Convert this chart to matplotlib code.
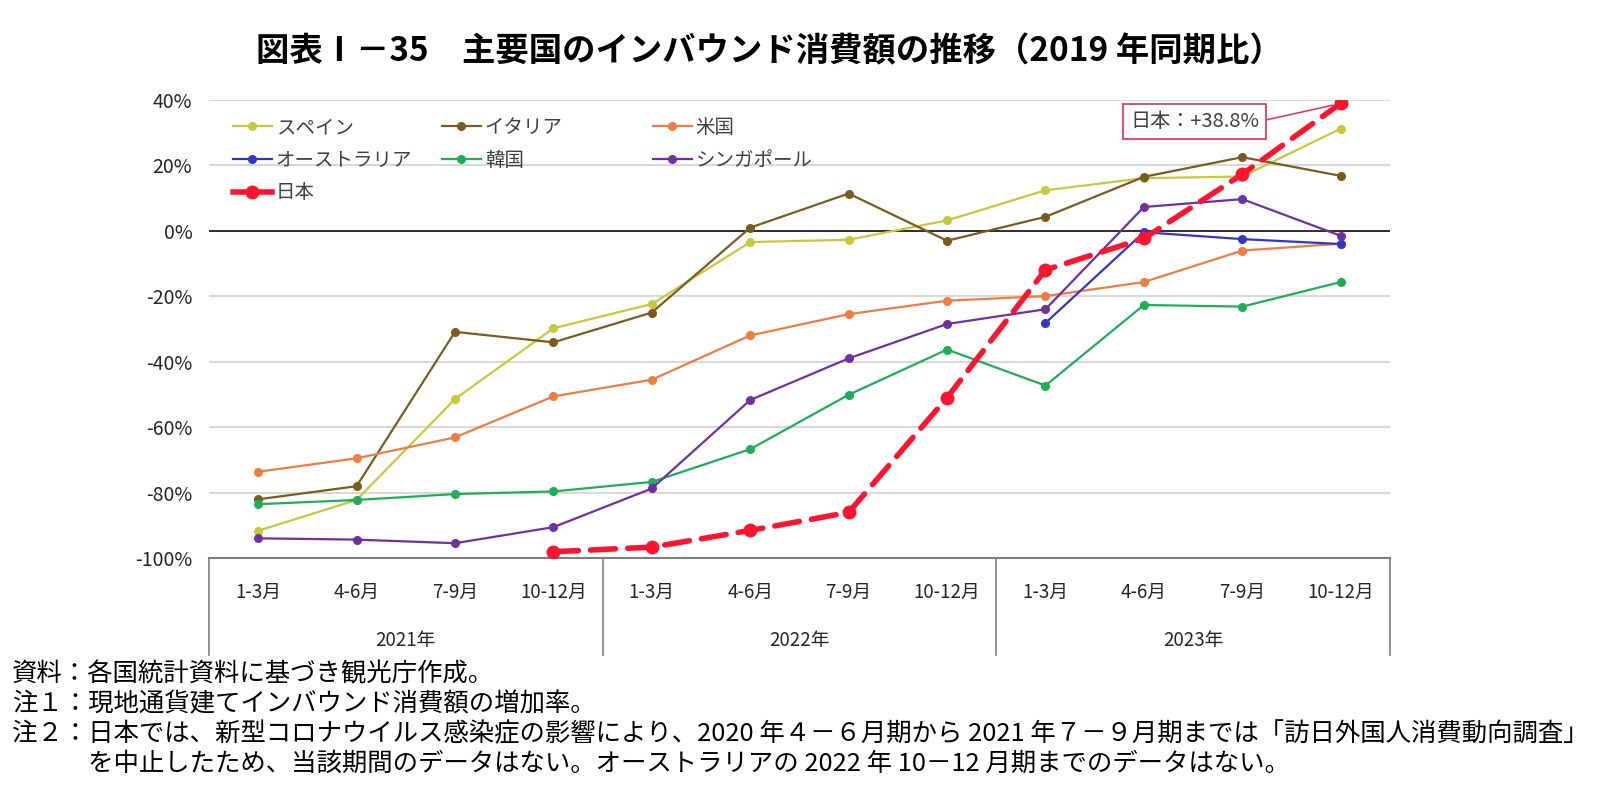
import numpy as np
import matplotlib
matplotlib.use("Agg")
import matplotlib.pyplot as plt
from matplotlib.lines import Line2D
from matplotlib.legend import Legend

plt.rcParams['font.family'] = ['Noto Sans CJK JP', 'DejaVu Sans']

# --- data (% change vs same period of 2019) ---
quarters = ['1-3月', '4-6月', '7-9月', '10-12月']
years = ['2021年', '2022年', '2023年']
nan = np.nan

spain = [-91.6, -82.2, -51.4, -29.8, -22.4, -3.5, -2.8, 3.1, 12.3, 16.0, 16.5, 31.1]
italy = [-82.0, -78.0, -30.9, -34.1, -25.0, 0.9, 11.3, -3.1, 4.2, 16.4, 22.4, 16.7]
usa = [-73.6, -69.5, -63.1, -50.6, -45.5, -32.0, -25.5, -21.4, -20.0, -15.7, -6.1, -4.0]
australia = [nan, nan, nan, nan, nan, nan, nan, nan, -28.2, -0.5, -2.6, -4.1]
korea = [-83.5, -82.2, -80.4, -79.6, -76.7, -66.7, -50.1, -36.3, -47.3, -22.7, -23.2, -15.7]
singapore = [-93.9, -94.3, -95.4, -90.5, -78.7, -51.7, -39.0, -28.5, -24.0, 7.2, 9.6, -1.6]
japan = [nan, nan, nan, -98.0, -96.6, -91.5, -86.0, -51.0, -12.0, -2.4, 17.2, 38.8]

names = ['スペイン', 'イタリア', '米国', 'オーストラリア', '韓国', 'シンガポール']
values = [spain, italy, usa, australia, korea, singapore]
colors = ['#C8C83C', '#7A5C1E', '#EF7C43', '#3434C8', '#1FAE58', '#7030A0']
jp_color = '#FF1430'

yticks = list(range(-100, 41, 20))

fig = plt.figure(figsize=(16, 7.86), dpi=100)
ax = fig.add_axes([0.1306, 0.2897, 0.7381, 0.5837])

x = np.arange(len(quarters) * len(years))
lines = []
for name, vals, col in zip(names, values, colors):
    ln, = ax.plot(x, vals, color=col, lw=1.6, marker='o', ms=5.5, label=name, zorder=3)
    lines.append(ln)

ax.plot(x, japan, color=jp_color, lw=4, ls=(0, (4.5, 2.2)), marker='o', ms=9,
        zorder=5, dash_capstyle='round')
jp_handle = Line2D([], [], color=jp_color, lw=4, marker='o', ms=9)

# axes styling
ax.set_xlim(-0.5, len(x) - 0.5)
ax.set_ylim(-100, 40)
ax.set_yticks(yticks)
ax.set_yticklabels([f'{v}%' for v in yticks])
ax.yaxis.grid(True, color='#D9D9D9', lw=1.5)
ax.set_axisbelow(True)
ax.axhline(0, color='black', lw=1.1, zorder=2)
for s in ['top', 'left', 'right']:
    ax.spines[s].set_visible(False)
ax.spines['bottom'].set_color('#7F7F7F')
ax.spines['bottom'].set_linewidth(1.5)
ax.tick_params(axis='y', length=0, pad=12, labelsize=14, labelcolor='#262626')
ax.set_xticks(x)
ax.set_xticklabels(quarters * len(years))
ax.tick_params(axis='x', length=0, pad=17, labelsize=13.5, labelcolor='#262626')

# multi-level category axis
tr = ax.get_xaxis_transform()
for k in range(len(years) + 1):
    b = -0.5 + len(quarters) * k
    ax.plot([b, b], [0, -0.211], transform=tr, color='#7F7F7F', lw=1.2, clip_on=False)
for i, yr in enumerate(years):
    ax.text(len(quarters) * i + 1.5, -0.179, yr, transform=tr, ha='center', va='center',
            fontsize=13.5, color='#262626')

# legend (three columns, row-major like the original)
cols = [([lines[0], lines[3], jp_handle], ['スペイン', 'オーストラリア', '日本'], 233),
        ([lines[1], lines[4]], ['イタリア', '韓国'], 442),
        ([lines[2], lines[5]], ['米国', 'シンガポール'], 653)]
for hs, ls, px in cols:
    leg = Legend(ax, hs, ls, loc='upper left', bbox_to_anchor=(px / 1600, 0.851),
                 bbox_transform=fig.transFigure, frameon=False, fontsize=14,
                 handlelength=2.0, handletextpad=0.2, labelspacing=0.6,
                 borderpad=0, borderaxespad=0, labelcolor='#404040')
    ax.add_artist(leg)

# annotation
ax.annotate(f'日本：+{japan[-1]:.1f}%', xy=(x[-1], japan[-1]), xytext=(-146, -18),
            textcoords='offset pixels', ha='center', va='center', fontsize=14.5,
            color='#404040',
            bbox=dict(boxstyle='square,pad=0.35', fc='white', ec='#E0304A', lw=1.2),
            arrowprops=dict(arrowstyle='-', color='#E0304A', lw=1.1, relpos=(1, 0.5),
                            shrinkA=0, shrinkB=6), zorder=6)

# title
fig.text(0.481, 0.934, '図表Ⅰ－35　主要国のインバウンド消費額の推移（2019 年同期比）',
         ha='center', va='center', fontsize=24, fontweight='bold')

# notes
notes = ['資料：各国統計資料に基づき観光庁作成。',
         '注１：現地通貨建てインバウンド消費額の増加率。',
         '注２：日本では、新型コロナウイルス感染症の影響により、2020 年４－６月期から 2021 年７－９月期までは「訪日外国人消費動向調査」',
         '　　　を中止したため、当該期間のデータはない。オーストラリアの 2022 年 10－12 月期までのデータはない。']
for i, t in enumerate(notes):
    fig.text(12 / 1600, 1 - (674 + 30 * i) / 786, t, ha='left', va='center', fontsize=18.3)

fig.savefig('out.png', dpi=100)
